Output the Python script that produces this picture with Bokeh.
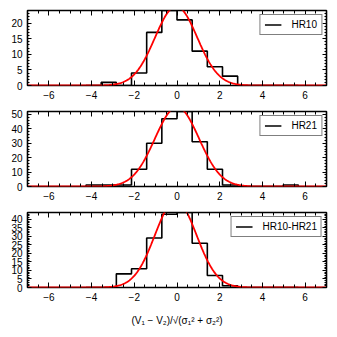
import numpy as np
from bokeh.plotting import figure
from bokeh.layouts import column
from bokeh.models import Range1d, LinearAxis, SingleIntervalTicker, CustomJSTickFormatter
from bokeh.embed import file_html
from bokeh.resources import INLINE

# ---- data ----
BIN_EDGES = [-4.26, -3.55, -2.84, -2.13, -1.42, -0.71, 0.0, 0.71, 1.42, 2.13, 2.84, 3.55, 4.26, 4.97, 5.68]
HR10_COUNTS = [0, 1, 0, 4, 17, 24, 21, 11, 6, 3, 0, 0, 0, 0]
HR21_COUNTS = [1, 1, 1, 12, 30, 47, 52, 31, 12, 1, 0, 0, 0, 1]
HR10_HR21_COUNTS = [0, 0, 8, 11, 29, 43, 44, 26, 7, 1, 0, 0, 0, 0]

PANEL_NAMES = ["HR10", "HR21", "HR10-HR21"]
PANEL_COUNTS = [HR10_COUNTS, HR21_COUNTS, HR10_HR21_COUNTS]
Y_MAX = [24, 52, 44]
Y_TICK_STEP = [5, 10, 5]

# Gaussian fit parameters (amplitude, mean, sigma) of the red curves
GAUSS_AMP = [25.3, 55.0, 51.0]
GAUSS_MU = [-0.04, 0.0, -0.06]
GAUSS_SIGMA = [0.99, 1.03, 0.97]

X_MIN, X_MAX = -7, 7
X_TICK_STEP = 2
X_LABEL = "(V\u2081 \u2212 V\u2082)/\u221a(\u03c3\u2081\u00b2 + \u03c3\u2082\u00b2)"

FONT = "Liberation Sans"
MINUS_FMT = "return (tick < 0 ? '\u2212' : '') + Math.abs(tick).toString();"


def step_outline(edges, counts):
    xs, ys = [edges[0]], [0]
    for i, c in enumerate(counts):
        xs += [edges[i], edges[i + 1]]
        ys += [c, c]
    xs.append(edges[-1])
    ys.append(0)
    return xs, ys


def make_panel(i):
    first = i == 0
    last = i == 2
    height = 119 if last else (109 if first else 101)
    p = figure(width=329, height=height, output_backend="svg", toolbar_location=None,
               x_range=Range1d(X_MIN, X_MAX), y_range=Range1d(0, Y_MAX[i]),
               min_border_left=27, min_border_right=3,
               min_border_top=(10 if first else 2),
               min_border_bottom=(42 if last else 24),
               x_axis_type=None, y_axis_type=None)
    p.background_fill_color = "white"
    p.border_fill_color = "white"
    p.outline_line_color = "black"
    p.outline_line_width = 1.6
    p.grid.visible = False

    xt = SingleIntervalTicker(interval=X_TICK_STEP, num_minor_ticks=4)
    yt = SingleIntervalTicker(interval=Y_TICK_STEP[i], num_minor_ticks=5)

    for loc, ticker, show in [("below", xt, True), ("above", xt, False),
                              ("left", yt, True), ("right", yt, False)]:
        ax = LinearAxis(ticker=ticker, formatter=CustomJSTickFormatter(code=MINUS_FMT))
        ax.axis_line_color = None
        ax.major_tick_line_color = "black"
        ax.minor_tick_line_color = "black"
        ax.major_tick_out = 0
        ax.minor_tick_out = 0
        if loc in ("below", "above"):
            ax.major_tick_in = 5
            ax.minor_tick_in = 3
        else:
            ax.major_tick_in = 4
            ax.minor_tick_in = 2
        if show:
            ax.major_label_text_font = FONT
            ax.major_label_text_font_size = "10px"
            ax.major_label_text_color = "black"
            ax.major_label_standoff = 5
        else:
            ax.major_label_text_font_size = "0px"
            ax.major_label_text_color = None
            ax.major_label_standoff = 0
        if loc == "below" and last:
            ax.axis_label = X_LABEL
            ax.axis_label_text_font = FONT
            ax.axis_label_text_font_size = "10px"
            ax.axis_label_text_font_style = "normal"
            ax.axis_label_text_color = "black"
            ax.axis_label_standoff = 11
        p.add_layout(ax, loc)

    xs, ys = step_outline(BIN_EDGES, PANEL_COUNTS[i])
    p.line(xs, ys, line_color="black", line_width=1.6, legend_label=PANEL_NAMES[i])

    gx = np.linspace(X_MIN, X_MAX, 400)
    gy = GAUSS_AMP[i] * np.exp(-0.5 * ((gx - GAUSS_MU[i]) / GAUSS_SIGMA[i]) ** 2)
    p.line(gx, gy, line_color="red", line_width=1.8)

    lg = p.legend[0]
    lg.location = "top_right"
    lg.margin = 4
    lg.padding = 4
    lg.spacing = 0
    lg.glyph_width = 17
    lg.glyph_height = 9
    lg.label_height = 9
    lg.label_standoff = 10
    lg.label_text_font = FONT
    lg.label_text_font_size = "10px"
    lg.label_text_color = "black"
    lg.border_line_color = "black"
    lg.border_line_width = 1.5
    lg.background_fill_color = "white"
    lg.background_fill_alpha = 1.0
    return p


panels = [make_panel(i) for i in range(3)]
layout = column(*panels, spacing=0)

open("out.html", "w").write(file_html(layout, INLINE))
